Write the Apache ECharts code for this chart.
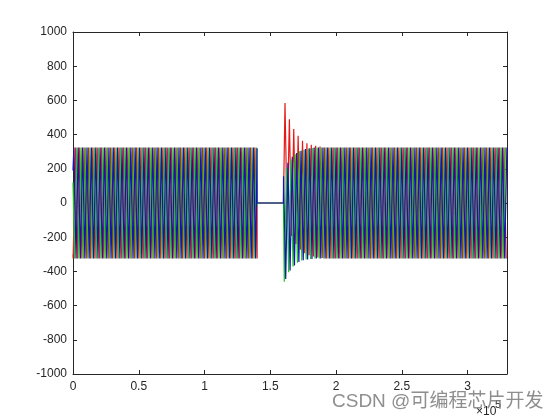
<!DOCTYPE html>
<html><head><meta charset="utf-8">
<script src="https://cdn.jsdelivr.net/npm/echarts@6/dist/echarts.min.js"></script>
<style>html,body{margin:0;padding:0;background:#fff}#c{width:560px;height:420px}</style>
</head><body><div id="c"></div>
<script>
// ---- data (x in units of 10^5 samples) ----
const xTickLabels = ['0', '0.5', '1', '1.5', '2', '2.5', '3'];
const yTickLabels = ['-1000', '-800', '-600', '-400', '-200', '0', '200', '400', '600', '800', '1000'];
const seriesNames = ['A', 'B', 'C'];
const seriesColors = ['#e61919', '#1ec81e', '#1414b4'];
const period = 0.0333;            // one cycle (x10^5)
const steadyAmp = 325;            // steady peak value
const segA = [0, 1.4];            // first running interval
const segB = [1.6, 3.3];          // second running interval (after off period)
const startValuesA = [-300, 120, 190];     // values at t = 0
const firstExtremeA = [0.001, 0.0121, 0.0066];
const firstSignA = [-1, -1, 1];
const endValuesA = [-300, -20, 320];       // values at t = 1.4 before switching off
const firstExtremeB = [1.612, 1.6065, 1.6008];
const firstSignB = [1, -1, 1];
// successive extremes after restart (peak/trough alternating)
const redTransient   = [585, -117, 490, -193, 432, -239, 393, -273, 364, -294, 350, -305, 340, -313, 334, -318, 330, -322];
const greenTransient = [-460, 205, -405, 255, -372, 285, -350, 302, -336, 312, -330, 318, -327, 322];
const blueTransient  = [157, -445, 235, -395, 270, -365, 292, -345, 306, -335, 315, -330, 320, -327];
const transients = [redTransient, greenTransient, blueTransient];

function buildPhase(i) {
  const pts = [[segA[0], startValuesA[i]]];
  let k = 0, t = firstExtremeA[i];
  while (t < segA[1]) {
    pts.push([t, firstSignA[i] * (k % 2 ? -1 : 1) * steadyAmp]);
    k++; t = firstExtremeA[i] + k * period / 2;
  }
  pts.push([segA[1], endValuesA[i]]);
  pts.push([segA[1], 0]);
  pts.push([segB[0], 0]);
  const tr = transients[i];
  k = 0; t = firstExtremeB[i];
  while (t <= segB[1]) {
    const v = k < tr.length ? tr[k] : firstSignB[i] * (k % 2 ? -1 : 1) * steadyAmp;
    pts.push([t, v]);
    k++; t = firstExtremeB[i] + k * period / 2;
  }
  return pts;
}

const chart = echarts.init(document.getElementById('c'), null, {renderer: 'canvas'});
const axisCol = '#262626';
const font = 'Liberation Sans, Arial, sans-serif';
const xMin = Number(xTickLabels[0]), xStep = Number(xTickLabels[1]) - xMin;
const yMin = Number(yTickLabels[0]), yMax = Number(yTickLabels[yTickLabels.length - 1]);
const yStep = Number(yTickLabels[1]) - yMin;

chart.setOption({
  animation: false,
  backgroundColor: '#fff',
  grid: {left: 73, right: 53, top: 32, bottom: 46, containLabel: false},
  xAxis: [{
    type: 'value', min: xMin, max: segB[1], interval: xStep,
    axisLine: {show: true, onZero: false, lineStyle: {color: axisCol, width: 1}},
    axisTick: {show: true, inside: true, length: 4, lineStyle: {color: axisCol}},
    axisLabel: {color: axisCol, fontSize: 12, fontFamily: font, margin: 7, showMaxLabel: false,
      formatter: v => xTickLabels.includes(String(v)) ? String(v) : ''},
    splitLine: {show: false}
  }, {
    type: 'value', position: 'top', min: xMin, max: segB[1], interval: xStep,
    axisLine: {show: true, onZero: false, lineStyle: {color: axisCol, width: 1}},
    axisTick: {show: true, inside: true, length: 4, lineStyle: {color: axisCol}},
    axisLabel: {show: false}, splitLine: {show: false}
  }],
  yAxis: [{
    type: 'value', min: yMin, max: yMax, interval: yStep,
    axisLine: {show: true, onZero: false, lineStyle: {color: axisCol, width: 1}},
    axisTick: {show: true, inside: true, length: 4, lineStyle: {color: axisCol}},
    axisLabel: {color: axisCol, fontSize: 12, fontFamily: font, margin: 6,
      formatter: v => yTickLabels.includes(String(v)) ? String(v) : ''},
    splitLine: {show: false}
  }, {
    type: 'value', position: 'right', min: yMin, max: yMax, interval: yStep,
    axisLine: {show: true, onZero: false, lineStyle: {color: axisCol, width: 1}},
    axisTick: {show: true, inside: true, length: 4, lineStyle: {color: axisCol}},
    axisLabel: {show: false}, splitLine: {show: false}
  }],
  series: seriesNames.map((n, i) => ({
    name: n, type: 'line', xAxisIndex: 0, yAxisIndex: 0,
    data: buildPhase(i), showSymbol: false, symbol: 'none',
    lineStyle: {color: seriesColors[i], width: 1.2}, itemStyle: {color: seriesColors[i]},
    silent: true, z: 2 + i
  })),
  graphic: [
    {type: 'text', left: 476, top: 406, z: 10,
      style: {text: '×10', fontSize: 12, fontFamily: font, fill: axisCol}},
    {type: 'text', left: 495, top: 399, z: 10,
      style: {text: '5', fontSize: 11, fontFamily: font, fill: axisCol}},
    {type: 'text', left: 332, top: 392, z: 20,
      style: {text: 'CSDN @可编程芯片开发', fontSize: 19,
        fontFamily: 'Liberation Sans, Noto Sans CJK SC, sans-serif', fill: 'rgba(130,130,130,0.9)'}}
  ]
});
</script></body></html>
